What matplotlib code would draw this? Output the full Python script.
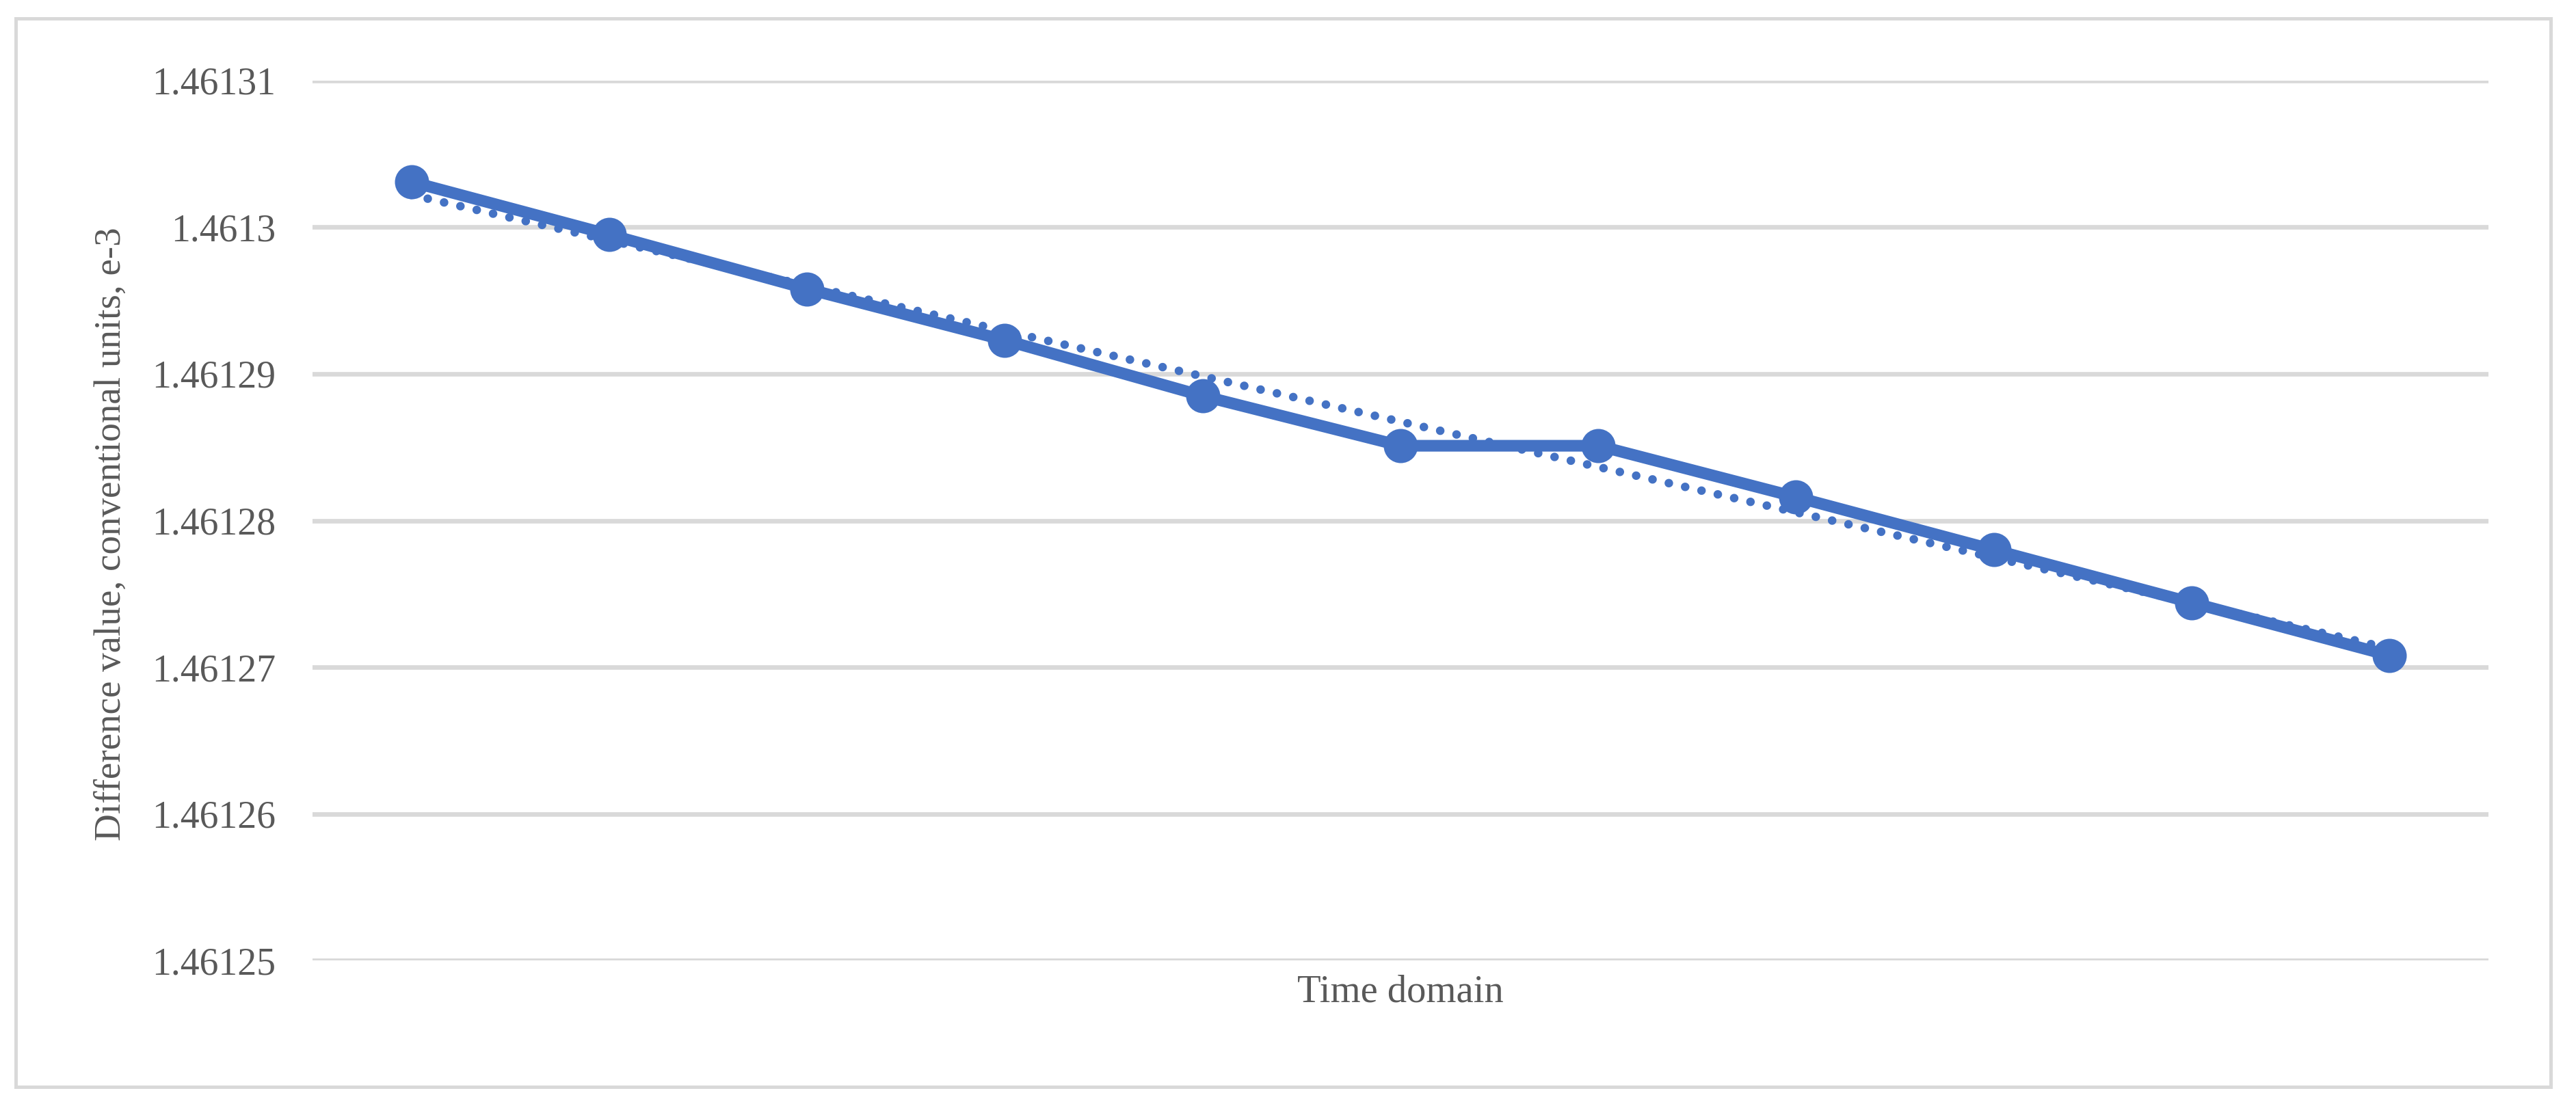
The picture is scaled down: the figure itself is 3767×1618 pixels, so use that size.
import numpy as np
import matplotlib
matplotlib.use('Agg')
import matplotlib.pyplot as plt
from matplotlib.patches import Rectangle

plt.rcParams['font.family'] = ['Liberation Serif', 'DejaVu Serif']

# values
steps = list(range(1, 12))
diff_values = [1.4613031, 1.4612995, 1.4612958, 1.4612923, 1.4612885, 1.4612851,
               1.4612851, 1.4612816, 1.4612780, 1.4612744, 1.4612708]
y_ticks = [1.46125, 1.46126, 1.46127, 1.46128, 1.46129, 1.4613, 1.46131]
y_tick_labels = ['1.46125', '1.46126', '1.46127', '1.46128', '1.46129', '1.4613', '1.46131']

blue = '#4472C4'
grey_text = '#595959'
grid_grey = '#D9D9D9'

fig = plt.figure(figsize=(3767 / 300, 1618 / 300), dpi=300)
ax = fig.add_axes([0.1213, 0.1316, 0.8447, 0.7955])

# linear trendline (like Excel's) fitted to the series
coef = np.polyfit(steps, diff_values, 1)
trend = np.polyval(coef, steps)
ax.plot(steps, trend, color=blue, lw=3.0, linestyle=(0, (0.01, 1.95)),
        dash_capstyle='round', zorder=2)

ax.plot(steps, diff_values, color=blue, lw=4.1, marker='o', markersize=11,
        solid_joinstyle='round', zorder=3)

ax.set_xlim(0.5, 11.5)
ax.set_ylim(1.46125, 1.46131)
ax.set_yticks(y_ticks)
ax.set_yticklabels(y_tick_labels)
ax.set_xticks([])
ax.tick_params(axis='y', length=0, pad=13, labelsize=13.4, labelcolor=grey_text)
ax.yaxis.grid(True, color=grid_grey, lw=1.6)
ax.set_axisbelow(True)
for s in ax.spines.values():
    s.set_visible(False)

ax.set_xlabel('Time domain', fontsize=13.6, color=grey_text, va='center')
ax.xaxis.set_label_coords(0.5, -0.036)
ax.set_ylabel('Difference value, conventional units, e-3', fontsize=13.2,
              color=grey_text, va='center')
ax.yaxis.set_label_coords(-0.0924, 0.485)

# chart border
fig.patches.append(Rectangle((23 / 3767, 28 / 1618), (3730 - 23) / 3767, (1590 - 27) / 1618,
                             transform=fig.transFigure, fill=False,
                             edgecolor=grid_grey, lw=1.2))

fig.savefig('out.png', dpi=300, facecolor='white')
